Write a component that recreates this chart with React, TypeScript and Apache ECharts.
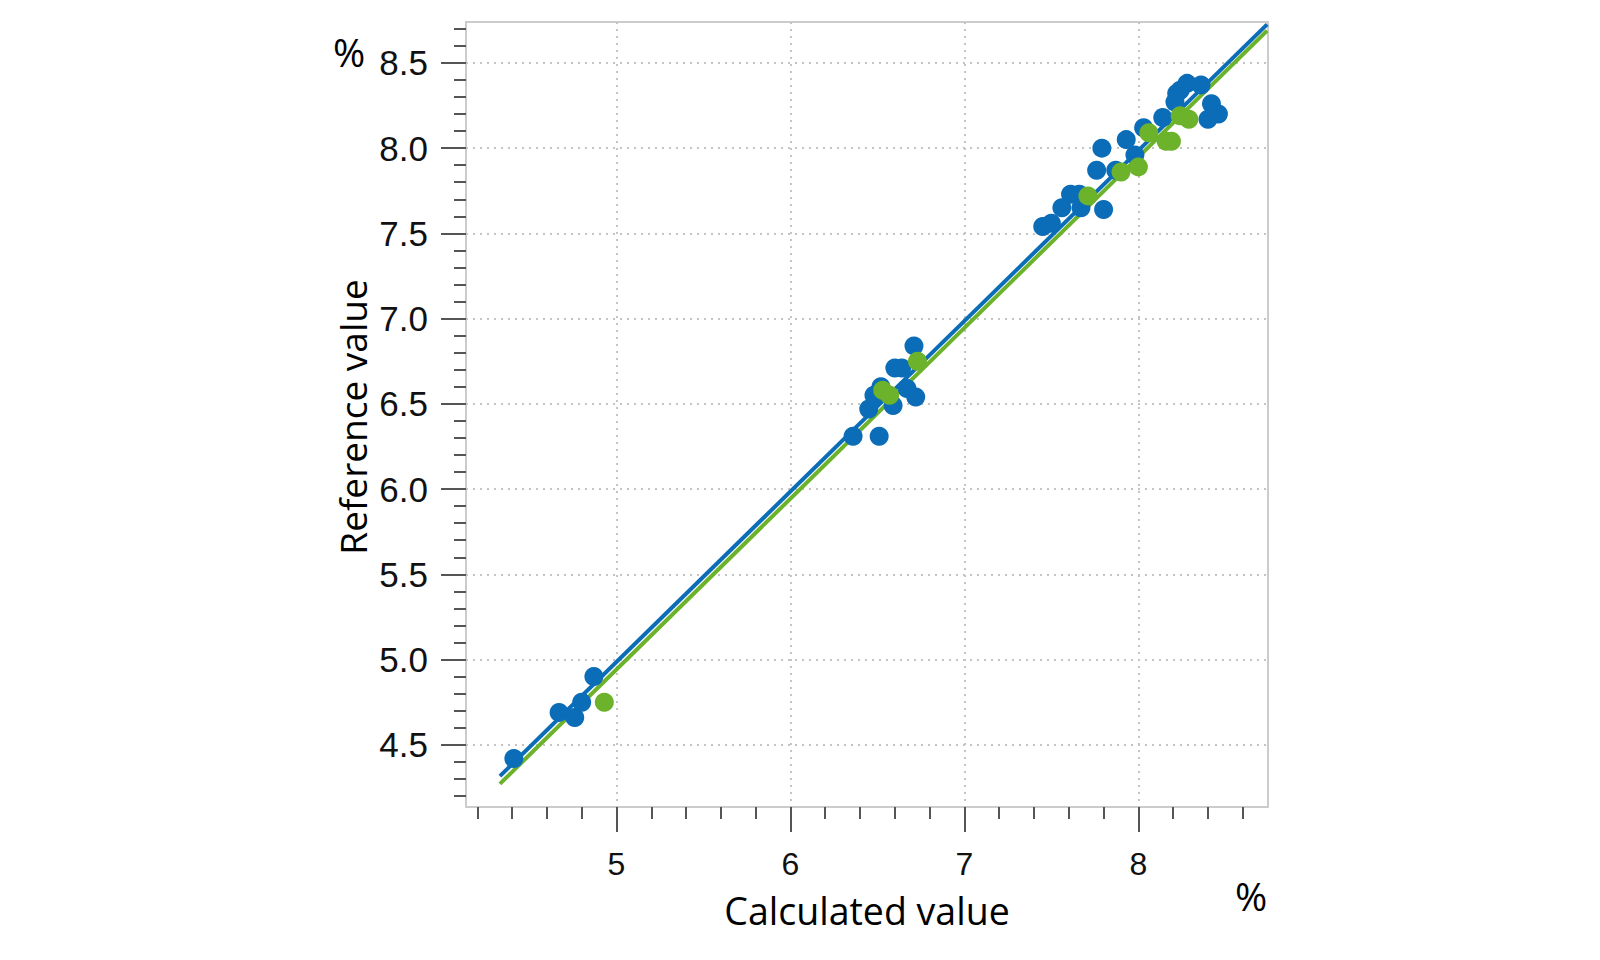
import React, { useEffect, useRef } from "react";
import * as echarts from "echarts";

// Calibration set (blue) and validation set (green): calculated vs. reference, in %
const calibrationCalculated = [
  4.41, 4.67, 4.76, 4.8, 4.87,
  6.36, 6.51, 6.45, 6.48, 6.52, 6.59, 6.6, 6.64, 6.67, 6.72, 6.71,
  7.45, 7.5, 7.56, 7.61, 7.66, 7.67, 7.8, 7.76, 7.79, 7.87, 7.93, 7.98,
  8.03, 8.14, 8.21, 8.22, 8.24, 8.28, 8.36, 8.42, 8.46, 8.4,
];
const calibrationReference = [
  4.42, 4.69, 4.66, 4.75, 4.9,
  6.31, 6.31, 6.47, 6.55, 6.6, 6.49, 6.71, 6.71, 6.59, 6.54, 6.84,
  7.54, 7.56, 7.65, 7.73, 7.73, 7.65, 7.64, 7.87, 8.0, 7.87, 8.05, 7.96,
  8.12, 8.18, 8.27, 8.32, 8.34, 8.38, 8.37, 8.26, 8.2, 8.17,
];
const validationCalculated = [4.93, 6.53, 6.57, 6.73, 7.71, 7.9, 8.0, 8.06, 8.16, 8.19, 8.24, 8.29];
const validationReference = [4.75, 6.58, 6.55, 6.75, 7.72, 7.86, 7.89, 8.09, 8.04, 8.04, 8.19, 8.17];

// Regression fits: reference = slope * calculated + intercept
const calibrationFit = { slope: 1.0, intercept: -0.014 };
const validationFit = { slope: 1.002, intercept: -0.068 };
const fitRange = [4.33, 8.74];

// Axis ranges and tick values
const axisMin = 4.135;
const xAxisMax = 8.745;
const yAxisMax = 8.74;
const xMajorTicks = [5, 6, 7, 8];
const xMinorTicks = [4.2, 4.4, 4.6, 4.8, 5.2, 5.4, 5.6, 5.8, 6.2, 6.4, 6.6, 6.8, 7.2, 7.4, 7.6, 7.8, 8.2, 8.4, 8.6];
const yMajorTicks = [4.5, 5.0, 5.5, 6.0, 6.5, 7.0, 7.5, 8.0, 8.5];
const yMinorTicks = [
  4.2, 4.3, 4.4, 4.6, 4.7, 4.8, 4.9, 5.1, 5.2, 5.3, 5.4, 5.6, 5.7, 5.8, 5.9,
  6.1, 6.2, 6.3, 6.4, 6.6, 6.7, 6.8, 6.9, 7.1, 7.2, 7.3, 7.4, 7.6, 7.7, 7.8, 7.9,
  8.1, 8.2, 8.3, 8.4, 8.6, 8.7,
];

const BLUE = "#0b6db7";
const GREEN = "#6cb22a";
const TICK = "#555555";
const NUM_FONT = "'Liberation Sans', Arial, sans-serif";
const TITLE_FONT = "'Open Sans', 'Noto Sans', sans-serif";

const zip = (xs: number[], ys: number[]) => xs.map((x, i) => [x, ys[i]]);
const fitLine = (fit: { slope: number; intercept: number }) =>
  fitRange.map((x) => [x, fit.slope * x + fit.intercept]);

export default function App() {
  const ref = useRef<HTMLDivElement>(null);

  useEffect(() => {
    if (!ref.current) return;
    const chart = echarts.init(ref.current, undefined, { renderer: "svg" });

    const grid = { left: 466, top: 22, width: 802, height: 785, outerBoundsMode: "none" };

    const minorTickAxis = (type: "x" | "y", values: number[], max: number) => ({
      type: "value",
      position: type === "x" ? "bottom" : "left",
      min: axisMin,
      max,
      axisLine: { show: false },
      axisLabel: { show: false },
      splitLine: { show: false },
      axisTick: { show: true, length: 12, customValues: values, lineStyle: { color: TICK, width: 2 } },
    });

    chart.setOption({
      animation: false,
      backgroundColor: "#ffffff",
      grid: { ...grid, show: true, borderColor: "#cccccc", borderWidth: 2, backgroundColor: "transparent" },
      xAxis: [
        {
          type: "value",
          position: "bottom",
          min: axisMin,
          max: xAxisMax,
          splitNumber: 5,
          axisLine: { show: false },
          axisTick: { show: true, length: 25, customValues: xMajorTicks, lineStyle: { color: TICK, width: 2 } },
          axisLabel: {
            customValues: xMajorTicks,
            margin: 41,
            fontSize: 32,
            fontFamily: NUM_FONT,
            color: "#111111",
            formatter: (v: number) => String(v),
          },
          splitLine: { show: true, lineStyle: { color: "#c4c4c4", width: 2, type: [2, 5] } },
        },
        minorTickAxis("x", xMinorTicks, xAxisMax),
      ],
      yAxis: [
        {
          type: "value",
          position: "left",
          min: axisMin,
          max: yAxisMax,
          splitNumber: 9,
          axisLine: { show: false },
          axisTick: { show: true, length: 25, customValues: yMajorTicks, lineStyle: { color: TICK, width: 2 } },
          axisLabel: {
            customValues: yMajorTicks,
            margin: 38,
            fontSize: 35,
            fontFamily: NUM_FONT,
            color: "#111111",
            formatter: (v: number) => v.toFixed(1),
          },
          splitLine: { show: true, lineStyle: { color: "#c4c4c4", width: 2, type: [2, 5] } },
        },
        minorTickAxis("y", yMinorTicks, yAxisMax),
      ],
      series: [
        {
          name: "Calibration fit",
          type: "line",
          data: fitLine(calibrationFit),
          showSymbol: false,
          lineStyle: { color: BLUE, width: 4 },
          z: 1,
        },
        {
          name: "Validation fit",
          type: "line",
          data: fitLine(validationFit),
          showSymbol: false,
          lineStyle: { color: GREEN, width: 4 },
          z: 1,
        },
        {
          name: "Calibration",
          type: "scatter",
          data: zip(calibrationCalculated, calibrationReference),
          symbolSize: 19,
          itemStyle: { color: BLUE, opacity: 1 },
          z: 2,
        },
        {
          name: "Validation",
          type: "scatter",
          data: zip(validationCalculated, validationReference),
          symbolSize: 19,
          itemStyle: { color: GREEN, opacity: 1 },
          z: 3,
        },
      ],
      graphic: [
        {
          type: "text",
          x: 867,
          y: 910,
          style: {
            text: "Calculated value",
            font: `37.5px ${TITLE_FONT}`,
            fill: "#000000",
            align: "center",
            verticalAlign: "middle",
          },
        },
        {
          type: "text",
          x: 352,
          y: 417,
          rotation: Math.PI / 2,
          style: {
            text: "Reference value",
            font: `37px ${TITLE_FONT}`,
            fill: "#000000",
            align: "center",
            verticalAlign: "middle",
          },
        },
        {
          type: "text",
          x: 349,
          y: 51,
          style: { text: "%", font: `39px ${TITLE_FONT}`, fill: "#000000", align: "center", verticalAlign: "middle" },
        },
        {
          type: "text",
          x: 1251,
          y: 895,
          style: { text: "%", font: `39px ${TITLE_FONT}`, fill: "#000000", align: "center", verticalAlign: "middle" },
        },
      ],
    });

    return () => chart.dispose();
  }, []);

  return (
    <div
      ref={ref}
      style={{ position: "fixed", left: 0, top: 0, width: 1600, height: 960, background: "#ffffff" }}
    />
  );
}
